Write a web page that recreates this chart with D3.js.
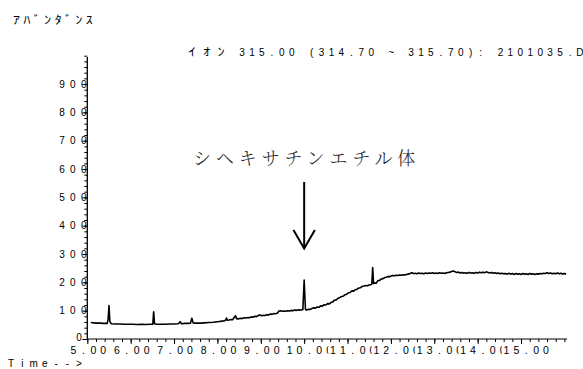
<!DOCTYPE html>
<html><head><meta charset="utf-8">
<script src="https://cdn.jsdelivr.net/npm/d3@7"></script>
<style>body{margin:0;background:#fff}svg{display:block}</style>
</head><body>
<svg id="c" width="583" height="369"></svg>
<script>
// ---- data: [retention time (min), abundance] ----
const trace = [
[5.08,58],[5.15,57],[5.22,56],[5.30,56],[5.38,55],[5.46,55],[5.48,70],[5.50,118],[5.52,62],[5.55,54],
[5.65,53],[5.75,53],[5.85,52],[5.95,52],[6.05,52],[6.15,51],[6.25,52],[6.35,51],[6.45,52],[6.51,52],
[6.53,96],[6.55,54],[6.60,52],[6.70,52],[6.80,52],[6.90,53],[7.00,53],[7.10,54],[7.14,61],[7.17,54],
[7.25,55],[7.32,55],[7.38,56],[7.41,73],[7.44,57],[7.50,56],[7.60,56],[7.70,57],[7.80,58],[7.90,59],
[8.00,61],[8.05,62],[8.10,63],[8.15,64],[8.19,66],[8.21,74],[8.23,66],[8.27,67],[8.31,69],[8.35,68],
[8.39,77],[8.42,82],[8.44,72],[8.48,71],[8.53,73],[8.57,72],[8.62,75],[8.66,74],[8.70,76],[8.74,75],
[8.78,78],[8.82,77],[8.86,80],[8.90,79],[8.94,83],[8.98,85],[9.02,82],[9.06,84],[9.10,83],[9.14,86],
[9.18,85],[9.22,88],[9.26,87],[9.30,90],[9.34,89],[9.38,91],[9.42,99],[9.46,100],[9.50,98],[9.54,99],
[9.58,98],[9.62,100],[9.66,99],[9.70,101],[9.74,100],[9.78,102],[9.82,101],[9.86,103],[9.90,102],[9.94,103],
[9.97,103],[10.00,208],[10.03,104],[10.06,102],[10.10,105],[10.14,104],[10.18,108],[10.22,110],[10.26,109],[10.30,113],
[10.34,112],[10.38,117],[10.42,116],[10.46,121],[10.50,120],[10.54,125],[10.58,124],[10.62,129],[10.66,131],[10.70,137],
[10.74,138],[10.78,144],[10.82,146],[10.86,150],[10.90,151],[10.94,156],[10.98,158],[11.02,163],[11.06,164],[11.10,170],
[11.14,169],[11.18,174],[11.22,176],[11.26,180],[11.30,181],[11.34,186],[11.38,187],[11.42,189],[11.46,188],[11.50,191],
[11.54,192],[11.56,194],[11.58,252],[11.60,196],[11.63,198],[11.66,197],[11.70,206],[11.74,207],[11.78,212],[11.82,213],
[11.86,217],[11.90,218],[11.94,221],[11.98,220],[12.00,222],[12.04,224],[12.08,223],[12.12,225],[12.16,224],[12.20,226],
[12.24,225],[12.28,227],[12.32,226],[12.36,228],[12.40,229],[12.44,231],[12.48,234],[12.52,231],[12.56,232],[12.60,230],
[12.64,233],[12.68,231],[12.72,232],[12.76,230],[12.80,233],[12.84,231],[12.88,233],[12.92,232],[12.96,234],[13.00,231],
[13.04,233],[13.08,231],[13.12,234],[13.16,232],[13.20,233],[13.24,231],[13.28,234],[13.32,235],[13.36,236],[13.40,238],
[13.44,240],[13.48,237],[13.52,235],[13.56,236],[13.60,233],[13.64,235],[13.68,232],[13.72,234],[13.76,232],[13.80,235],
[13.84,233],[13.88,234],[13.92,232],[13.96,235],[14.00,233],[14.04,236],[14.08,234],[14.12,236],[14.16,234],[14.20,237],
[14.24,235],[14.28,233],[14.32,235],[14.36,232],[14.40,234],[14.44,231],[14.48,233],[14.52,230],[14.56,232],[14.60,230],
[14.64,231],[14.68,229],[14.72,232],[14.76,229],[14.80,231],[14.84,228],[14.88,231],[14.92,229],[14.96,230],[15.00,228],
[15.04,231],[15.08,229],[15.12,230],[15.16,228],[15.20,231],[15.24,229],[15.28,230],[15.32,228],[15.36,230],[15.40,229],
[15.44,231],[15.48,230],[15.52,232],[15.56,231],[15.60,234],[15.64,231],[15.68,233],[15.72,230],[15.76,232],[15.80,230],
[15.84,233],[15.88,230],[15.92,232],[15.96,229],[16.00,231],[16.04,229]
];
const yTickValues = [0,100,200,300,400,500,600,700,800,900];
const yTickLabels = ["0","100","200","300","400","500","600","700","800","900"];
const xTickValues = [5,6,7,8,9,10,11,12,13,14,15];
const xTickLabels = ["5.00","6.00","7.00","8.00","9.00","10.00","11.00","12.00","13.00","14.00","15.00"];
const yAxisTitle = "ｱﾊﾞﾝﾀﾞﾝｽ";
const ionName = "ｲｵﾝ";
const ionInfo = "315.00 (314.70 ~ 315.70): 2101035.D";
const xAxisTitle = "Time-->";
const annotation = "シヘキサチンエチル体";
const annotationTime = 10.0;

// ---- layout ----
const svg = d3.select("#c");
const x = d3.scaleLinear().domain([5, 16.06]).range([87.3, 567]);
const y = d3.scaleLinear().domain([0, 1000]).range([339, 55.7]);

// fixed-pitch text helper: each character centred in its own cell
function cellText(str, firstCenter, adv, yy, size, family, stretch) {
  const s = stretch || 1;
  const chars = Array.from(str);
  const xs = chars.map((c, i) => ((firstCenter + i * adv) / s).toFixed(2));
  const t = svg.append("text")
    .attr("x", xs.join(" "))
    .attr("y", yy)
    .attr("text-anchor", "middle")
    .attr("font-family", family)
    .attr("font-size", size)
    .attr("fill", "#000")
    .attr("xml:space", "preserve")
    .text(str);
  if (s !== 1) t.attr("transform", `scale(${s},1)`);
  return t;
}

const numFont = "'Liberation Sans', Arial, sans-serif";
const jpFont = "'Noto Sans CJK JP', sans-serif";

// y axis (minor ticks every 20, major every 100)
const gy = svg.append("g").attr("transform", `translate(${x(5)},0)`)
  .call(d3.axisLeft(y).tickValues(d3.range(0, 1001, 20)).tickSize(3).tickFormat(""));
gy.select(".domain").remove();
gy.selectAll("line").attr("stroke", "#000");
const gyMaj = svg.append("g").attr("transform", `translate(${x(5)},0)`)
  .call(d3.axisLeft(y).tickValues(yTickValues).tickSize(5).tickFormat(""));
gyMaj.select(".domain").remove();
svg.append("line").attr("x1", x(5)).attr("x2", x(5)).attr("y1", y(0)).attr("y2", 57)
  .attr("stroke", "#000").attr("stroke-width", 1.3);

yTickValues.forEach((v, k) => {
  const lab = yTickLabels[k];
  const n = lab.length;
  const lastCenter = lab === "0" ? x(5) - 8.3 : x(5) - 3.5;
  cellText(lab, lastCenter - (n - 1) * 10.9, 10.9, y(v) + 3.6 - (lab === "0" ? 2 : 0), 10, numFont);
});

// x axis (minor ticks every 0.2, major every 1)
const gx = svg.append("g").attr("transform", `translate(0,${y(0)})`)
  .call(d3.axisBottom(x).tickValues(d3.range(50, 161, 2).map(d => d / 10)).tickSize(3).tickFormat(""));
gx.select(".domain").remove();
gx.selectAll("line").attr("stroke", "#000");
const gxMaj = svg.append("g").attr("transform", `translate(0,${y(0)})`)
  .call(d3.axisBottom(x).tickValues(xTickValues).tickSize(5).tickFormat(""));
gxMaj.select(".domain").remove();
svg.append("line").attr("x1", x(5)).attr("x2", 567).attr("y1", y(0)).attr("y2", y(0))
  .attr("stroke", "#000").attr("stroke-width", 1.2);

// tick labels: fixed pitch, left aligned at the tick; each label's cells are
// painted white first, so a long label's last cell is clipped by the next label
const xAdv = 9.9;
xTickValues.forEach((v, k) => {
  const lab = xTickLabels[k];
  const n = lab.length;
  const first = x(v) - 13.8 - (n - 4) * 0.8;
  svg.append("rect")
    .attr("x", first - xAdv / 2 + 0.4).attr("y", 345)
    .attr("width", n * xAdv - 0.8).attr("height", 11)
    .attr("fill", "#fff");
  cellText(lab, first, xAdv, 354, 10.5, numFont);
});

// titles
cellText(yAxisTitle, 16.5, 10.4, 24, 11.5, jpFont, 1.2);
cellText(ionName, 192, 14.5, 56, 11.5, jpFont, 1.25);
cellText(ionInfo, 242, 9.94, 56, 10, numFont);
cellText(xAxisTitle, 11, 11.3, 367, 10, numFont);

// trace
svg.append("path").datum(trace)
  .attr("fill", "none").attr("stroke", "#000").attr("stroke-width", 1.6)
  .attr("stroke-linejoin", "round")
  .attr("d", d3.line().x(d => x(d[0])).y(d => y(d[1])));

// annotation
svg.append("text").attr("x", 193).attr("y", 165)
  .attr("font-family", "'Noto Serif CJK JP','Noto Sans CJK JP', serif")
  .attr("font-weight", 300)
  .attr("font-size", 18).attr("letter-spacing", 4.9).attr("fill", "#222")
  .text(annotation);
const ax = x(annotationTime);
svg.append("line").attr("x1", ax).attr("x2", ax).attr("y1", 182).attr("y2", 248)
  .attr("stroke", "#000").attr("stroke-width", 2);
svg.append("path").attr("d", `M${ax - 10.7},230 L${ax},248.5 L${ax + 10.7},230`)
  .attr("fill", "none").attr("stroke", "#000").attr("stroke-width", 2);
</script>
</body></html>
